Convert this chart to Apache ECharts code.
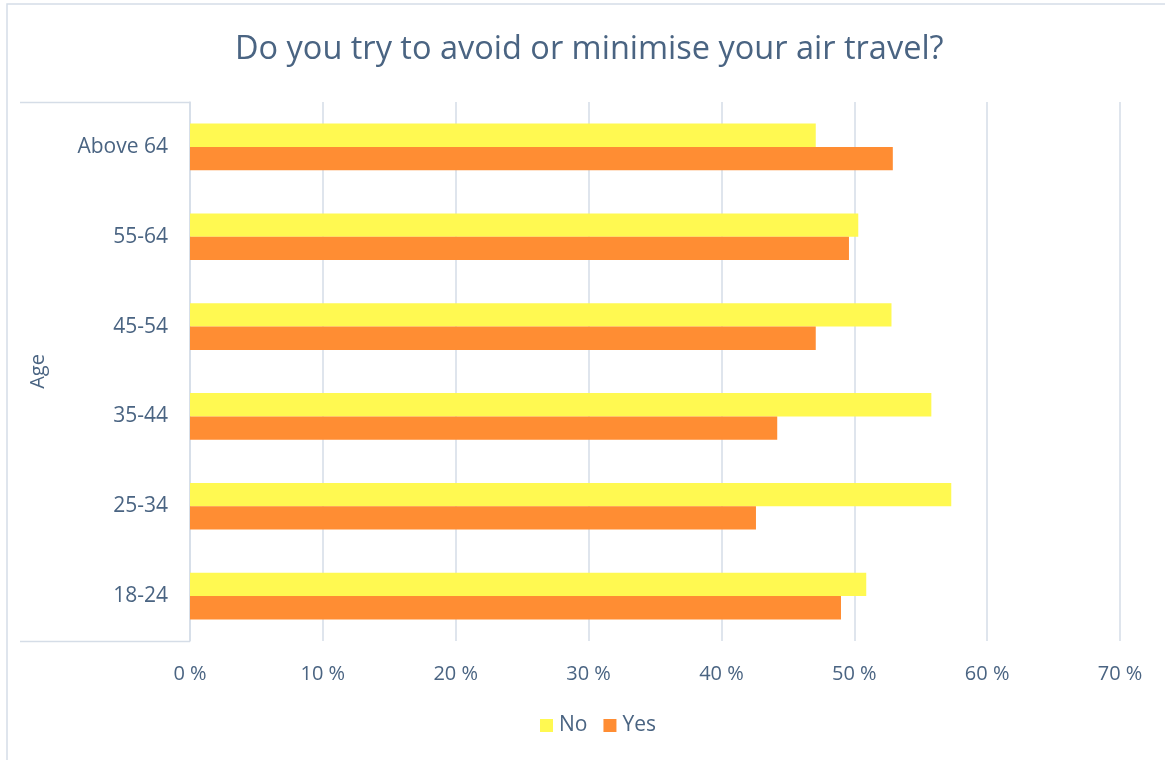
<!DOCTYPE html>
<html>
<head>
<meta charset="utf-8">
<script src="https://cdn.jsdelivr.net/npm/echarts@6/dist/echarts.min.js"></script>
<style>
html,body{margin:0;padding:0;background:#fff;}
#chart{width:1165px;height:760px;}
</style>
</head>
<body>
<div id="chart"></div>
<script>
const categories = ['18-24', '25-34', '35-44', '45-54', '55-64', 'Above 64'];
const noValues  = [50.9, 57.3, 55.8, 52.8, 50.3, 47.1];
const yesValues = [49.0, 42.6, 44.2, 47.1, 49.6, 52.9];
const xTicks = { min: 0, max: 70, interval: 10 };

const textColor = '#4A6482';
const fontFamily = '"Open Sans", "Noto Sans", sans-serif';
const gridColor = '#D5DDE7';

const chart = echarts.init(document.getElementById('chart'), null, { renderer: 'canvas' });
chart.setOption({
  backgroundColor: '#fff',
  textStyle: { fontFamily: fontFamily, color: textColor },
  title: {
    text: 'Do you try to avoid or minimise your air travel?',
    left: 230,
    top: 28,
    textStyle: { fontFamily: fontFamily, fontSize: 32.5, fontWeight: 'normal', color: textColor }
  },
  legend: {
    data: ['No', 'Yes'],
    bottom: 19,
    left: 535,
    itemWidth: 13,
    itemHeight: 13,
    itemGap: 16,
    icon: 'rect',
    textStyle: { fontFamily: fontFamily, fontSize: 21, color: textColor, padding: [0, 0, 0, 1] }
  },
  grid: { left: 190, right: 45, top: 102, bottom: 119, containLabel: false },
  xAxis: {
    type: 'value',
    min: xTicks.min, max: xTicks.max, interval: xTicks.interval,
    axisLine: { show: false },
    axisTick: { show: false },
    axisLabel: { formatter: '{value} %', fontSize: 20, color: textColor, margin: 23, fontFamily: fontFamily },
    splitLine: { show: true, lineStyle: { color: gridColor, width: 1.5 } }
  },
  yAxis: {
    type: 'category',
    data: categories,
    name: 'Age',
    nameLocation: 'middle',
    nameGap: 142,
    nameRotate: 90,
    nameTextStyle: { fontSize: 20, color: textColor, fontFamily: fontFamily },
    axisLine: { show: true, lineStyle: { color: gridColor, width: 1.5 } },
    axisTick: { show: false },
    axisLabel: { fontSize: 21, color: textColor, margin: 22, fontFamily: fontFamily }
  },
  series: [
    {
      name: 'No', type: 'bar', data: noValues,
      itemStyle: { color: '#FFF951' },
      barGap: '0%', barCategoryGap: '48%'
    },
    {
      name: 'Yes', type: 'bar', data: yesValues,
      itemStyle: { color: '#FF8D33' },
      barGap: '0%', barCategoryGap: '48%'
    }
  ],
  graphic: [
    { type: 'rect', silent: true, shape: { x: 7, y: 4, width: 1200, height: 800 },
      style: { fill: 'none', stroke: gridColor, lineWidth: 1.5 } },
    { type: 'line', silent: true, shape: { x1: 20, y1: 102.5, x2: 190, y2: 102.5 },
      style: { stroke: gridColor, lineWidth: 1.5 } },
    { type: 'line', silent: true, shape: { x1: 20, y1: 641.5, x2: 190, y2: 641.5 },
      style: { stroke: gridColor, lineWidth: 1.5 } }
  ]
});
</script>
</body>
</html>
